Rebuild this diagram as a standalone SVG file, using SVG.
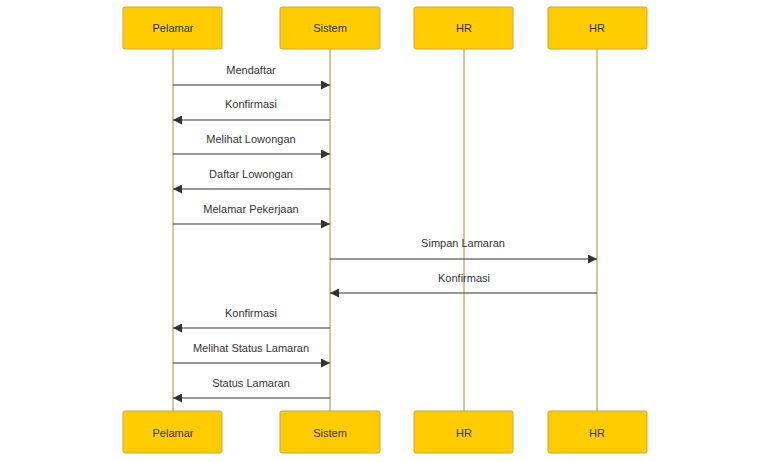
<svg xmlns="http://www.w3.org/2000/svg" width="770" height="462" viewBox="0 0 770 462">
  <style>
    .actor rect { fill: #ffcc00; stroke: #c9a83a; stroke-width: 1; }
    .actor text { font-family: "Liberation Sans", Arial, sans-serif; font-size: 11px; fill: #333333; text-anchor: middle; dominant-baseline: central; }
    .life { stroke: #a8902e; stroke-width: 1; }
    .msg { stroke: #333333; stroke-width: 1; fill: none; marker-end: url(#arrow); }
    .lbl { font-family: "Liberation Sans", Arial, sans-serif; font-size: 11px; fill: #333333; text-anchor: middle; }
  </style>
  <defs>
    <marker id="arrow" viewBox="0 0 10 10" refX="10" refY="5" markerWidth="9" markerHeight="9" markerUnits="userSpaceOnUse" orient="auto">
      <path d="M0,0 L10,5 L0,10 z" fill="#333333"/>
    </marker>
  </defs>
  <rect width="770" height="462" fill="#ffffff"/>

  <!-- lifelines -->
  <g id="lifelines">
    <line class="life" x1="173" y1="49" x2="173" y2="411"/>
    <line class="life" x1="330" y1="49" x2="330" y2="411"/>
    <line class="life" x1="464" y1="49" x2="464" y2="411"/>
    <line class="life" x1="597" y1="49" x2="597" y2="411"/>
  </g>

  <!-- participants (top) -->
  <g id="pelamar-top" class="actor"><rect x="123" y="7" width="99" height="42" rx="2"/><text x="173" y="28">Pelamar</text></g>
  <g id="sistem-top" class="actor"><rect x="280" y="7" width="100" height="42" rx="2"/><text x="330" y="28">Sistem</text></g>
  <g id="hr1-top" class="actor"><rect x="414" y="7" width="99" height="42" rx="2"/><text x="464" y="28">HR</text></g>
  <g id="hr2-top" class="actor"><rect x="548" y="7" width="99" height="42" rx="2"/><text x="597" y="28">HR</text></g>

  <!-- participants (bottom) -->
  <g id="pelamar-bottom" class="actor"><rect x="123" y="411" width="99" height="42" rx="2"/><text x="173" y="433">Pelamar</text></g>
  <g id="sistem-bottom" class="actor"><rect x="280" y="411" width="100" height="42" rx="2"/><text x="330" y="433">Sistem</text></g>
  <g id="hr1-bottom" class="actor"><rect x="414" y="411" width="99" height="42" rx="2"/><text x="464" y="433">HR</text></g>
  <g id="hr2-bottom" class="actor"><rect x="548" y="411" width="99" height="42" rx="2"/><text x="597" y="433">HR</text></g>

  <!-- messages -->
  <g id="connectors">
    <line class="msg" x1="173" y1="85" x2="330" y2="85"/>
    <text class="lbl" x="251" y="74">Mendaftar</text>
    <line class="msg" x1="330" y1="120" x2="173" y2="120"/>
    <text class="lbl" x="251" y="108">Konfirmasi</text>
    <line class="msg" x1="173" y1="154" x2="330" y2="154"/>
    <text class="lbl" x="251" y="143">Melihat Lowongan</text>
    <line class="msg" x1="330" y1="189" x2="173" y2="189"/>
    <text class="lbl" x="251" y="178">Daftar Lowongan</text>
    <line class="msg" x1="173" y1="224" x2="330" y2="224"/>
    <text class="lbl" x="251" y="213">Melamar Pekerjaan</text>
    <line class="msg" x1="330" y1="259" x2="597" y2="259"/>
    <text class="lbl" x="463" y="247">Simpan Lamaran</text>
    <line class="msg" x1="597" y1="293" x2="330" y2="293"/>
    <text class="lbl" x="464" y="282">Konfirmasi</text>
    <line class="msg" x1="330" y1="328" x2="173" y2="328"/>
    <text class="lbl" x="251" y="317">Konfirmasi</text>
    <line class="msg" x1="173" y1="363" x2="330" y2="363"/>
    <text class="lbl" x="251" y="352">Melihat Status Lamaran</text>
    <line class="msg" x1="330" y1="398" x2="173" y2="398"/>
    <text class="lbl" x="251" y="387">Status Lamaran</text>
  </g>
</svg>
